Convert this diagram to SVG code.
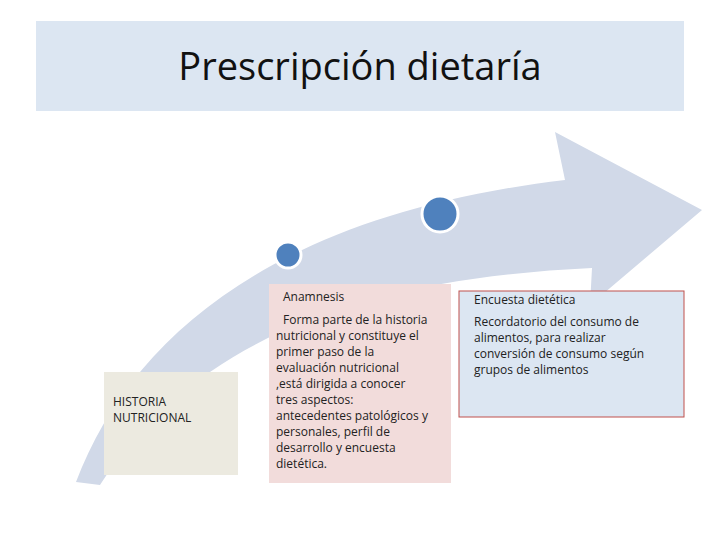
<svg xmlns="http://www.w3.org/2000/svg" width="720" height="540" viewBox="0 0 720 540">
<style>
text{font-family:"Open Sans","DejaVu Sans",sans-serif;font-size:12px;fill:#222}
.dot{fill:#4f81bd;stroke:#fff;stroke-width:3}
</style>
<rect width="720" height="540" fill="#fff"/>
<g id="title"><rect x="36" y="21" width="648" height="90" fill="#dce6f2"/>
<text x="360" y="80" text-anchor="middle" style="font-size:38px;fill:#111">Prescripción dietaría</text></g>
<g id="arrow"><path d="M76,482 C130,340 270,215 565,180 L555,132 L702,210 L590,305 L592,268 C380,278 200,330 100,485 Z" fill="#d1d9e8"/></g>
<g id="connectors"></g>
<g id="dots"><circle class="dot" cx="288" cy="255" r="13"/><circle class="dot" cx="440" cy="214" r="18"/></g>
<g id="historia"><rect x="104" y="372" width="134" height="103" fill="#eceae0"/>
<text x="113" y="406">HISTORIA</text><text x="113" y="422">NUTRICIONAL</text></g>
<g id="anamnesis"><rect x="269" y="284" width="182" height="199" fill="#f2dcdb"/>
<text x="283" y="301">Anamnesis</text>
<text x="283" y="324">Forma parte de la historia</text>
<text x="276" y="340">nutricional y constituye el</text>
<text x="276" y="356">primer paso de la</text>
<text x="276" y="372">evaluación nutricional</text>
<text x="276" y="388">,está dirigida a conocer</text>
<text x="276" y="404">tres aspectos:</text>
<text x="276" y="420">antecedentes patológicos y</text>
<text x="276" y="436">personales, perfil de</text>
<text x="276" y="452">desarrollo y encuesta</text>
<text x="276" y="468">dietética.</text></g>
<g id="encuesta"><rect x="459" y="291" width="225" height="126" fill="#dce6f2" stroke="#c0504d"/>
<text x="474" y="304">Encuesta dietética</text>
<text x="474" y="326">Recordatorio del consumo de</text>
<text x="474" y="342">alimentos,  para realizar</text>
<text x="474" y="358">conversión de consumo según</text>
<text x="474" y="374">grupos de alimentos</text></g>
</svg>
